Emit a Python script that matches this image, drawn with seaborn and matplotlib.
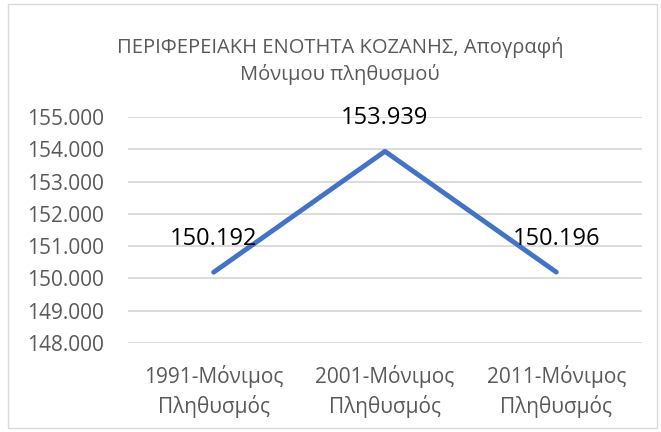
import numpy as np
import pandas as pd
import seaborn as sns
import matplotlib.pyplot as plt
from matplotlib.ticker import FuncFormatter

# data
categories = ["1991-Μόνιμος\nΠληθυσμός", "2001-Μόνιμος\nΠληθυσμός", "2011-Μόνιμος\nΠληθυσμός"]
population = [150192, 153939, 150196]
title = "ΠΕΡΙΦΕΡΕΙΑΚΗ ΕΝΟΤΗΤΑ ΚΟΖΑΝΗΣ, Απογραφή\nΜόνιμου πληθυσμού"

df = pd.DataFrame({"cat": categories, "pop": population})
df["pos"] = np.arange(len(df))

sns.set_theme(style="white")
plt.rcParams['font.family'] = ['Open Sans', 'DejaVu Sans']

grey = "#595959"
blue = "#4472C4"

fig = plt.figure(figsize=(6.61, 4.32), dpi=100)
ax = fig.add_axes([0.1936, 0.206, 0.7776, 0.523])

sns.lineplot(data=df, x="pos", y="pop", ax=ax, color=blue, linewidth=3.5, solid_capstyle="round")

def dotfmt(v):
    return f"{int(round(v)):,}".replace(",", ".")

for _, r in df.iterrows():
    ax.annotate(dotfmt(r["pop"]), (r["pos"], r["pop"]), xytext=(0, 24), textcoords="offset points",
                ha="center", va="center", fontsize=17, color="black")

ax.set_xlim(-0.5, 2.5)
ax.set_ylim(148000, 155000)
ax.set_yticks(np.arange(148000, 155001, 1000))
ax.yaxis.set_major_formatter(FuncFormatter(lambda v, p: dotfmt(v)))
ax.set_xticks(df["pos"])
ax.set_xticklabels(categories, linespacing=1.35)
ax.tick_params(axis="both", colors=grey, labelsize=15, length=0)
ax.tick_params(axis="x", pad=16)
ax.tick_params(axis="y", pad=17)
ax.grid(axis="y", color="#D9D9D9", linewidth=1.3)
ax.set_axisbelow(True)
for s in ax.spines.values():
    s.set_visible(False)
ax.set_xlabel("")
ax.set_ylabel("")

fig.text(0.514, 0.859, title, ha="center", va="center", fontsize=14.5, color=grey, linespacing=1.35)

# chart border
border = plt.Rectangle((0.012, 0.009), 0.982, 0.981, transform=fig.transFigure, fill=False,
                       edgecolor="#D9D9D9", linewidth=1)
fig.patches.append(border)

fig.savefig("out.png", dpi=100)
